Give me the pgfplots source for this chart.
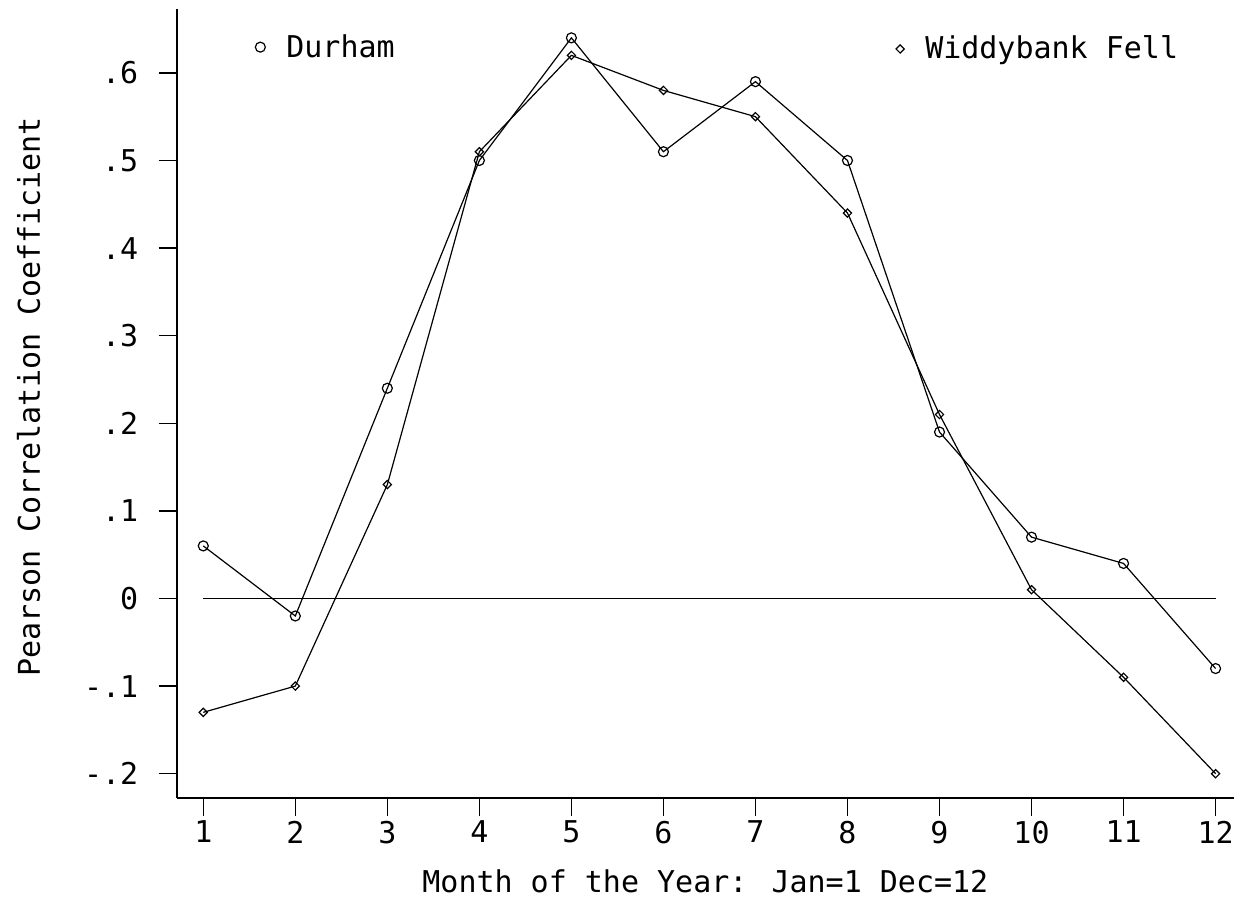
\documentclass[border=0pt]{standalone}
\usepackage{fontspec}
\setmainfont{DejaVu Sans Mono}
\usepackage{pgfplots}
\pgfplotsset{compat=1.18}
\usetikzlibrary{calc}

\newcommand{\chartfont}{\fontsize{15pt}{18pt}\selectfont}

\begin{document}
\begin{tikzpicture}
\pgfplotsset{
  monthaxis/.style={
    scale only axis,
    width=528.65pt, height=394.2pt,
    xmin=0.711, xmax=12.20,
    ymin=-0.2274, ymax=0.6726,
    legend style={draw=none, fill=none, inner sep=0pt, column sep=8.5pt, font=\chartfont},
    legend cell align=left,
    legend image code/.code={\draw[##1] plot coordinates {(0pt,0pt)};},
  },
  series/.style={black, line width=0.6pt, mark options={solid, line width=0.6pt}},
}

% Axis frame, zero reference line and the Durham series
\begin{axis}[monthaxis,
  axis x line*=bottom, axis y line*=left,
  every outer x axis line/.append style={-, line width=0.9pt},
  every outer y axis line/.append style={-, line width=0.9pt},
  tick align=outside, major tick length=9pt,
  tick style={black, line width=0.7pt},
  xtick={1,2,3,4,5,6,7,8,9,10,11,12},
  xticklabels={1,2,3,4,5,6,7,8,9,10,11,12},
  ytick={-0.2,-0.1,0,0.1,0.2,0.3,0.4,0.5,0.6},
  yticklabels={-.2,-.1,0,.1,.2,.3,.4,.5,.6},
  ticklabel style={font=\chartfont, inner sep=0pt},
  xticklabel style={yshift=-2.5pt},
  yticklabel style={xshift=-10pt},
  xlabel={Month of the Year: Jan=1 Dec=12},
  ylabel={Pearson Correlation Coefficient},
  every axis x label/.style={at={(axis description cs:0.5,0)}, anchor=base,
    yshift=-47.5pt, font=\chartfont},
  every axis y label/.style={at={(axis description cs:0,0.5)}, xshift=-68.35pt,
    yshift=3.25pt, rotate=90, anchor=base, font=\chartfont},
  legend style={at={(axis description cs:0.074,0.952)}, anchor=west},
]
\addplot[black, line width=0.6pt, forget plot] coordinates {(1,0) (12,0)};
\addplot[series, mark=o, mark size=2.5pt] coordinates {
  (1,0.06) (2,-0.02) (3,0.24) (4,0.50) (5,0.64) (6,0.51)
  (7,0.59) (8,0.50) (9,0.19) (10,0.07) (11,0.04) (12,-0.08)
};
\addlegendentry{Durham}
\coordinate (sw) at (rel axis cs:0,0);
\coordinate (ne) at (rel axis cs:1,1);
\end{axis}

% Widdybank Fell series with its own legend entry
\begin{axis}[monthaxis, hide axis,
  legend style={at={(axis description cs:0.680,0.9497)}, anchor=west},
]
\addplot[series, mark=square, mark options={rotate=45}, mark size=1.45pt] coordinates {
  (1,-0.13) (2,-0.10) (3,0.13) (4,0.51) (5,0.62) (6,0.58)
  (7,0.55) (8,0.44) (9,0.21) (10,0.01) (11,-0.09) (12,-0.20)
};
\addlegendentry{Widdybank Fell}
\end{axis}

\pgfresetboundingbox
\path[use as bounding box] ($(sw)+(-88.35pt,-50.65pt)$) rectangle ($(ne)+(0pt,4.65pt)$);
\end{tikzpicture}
\end{document}
